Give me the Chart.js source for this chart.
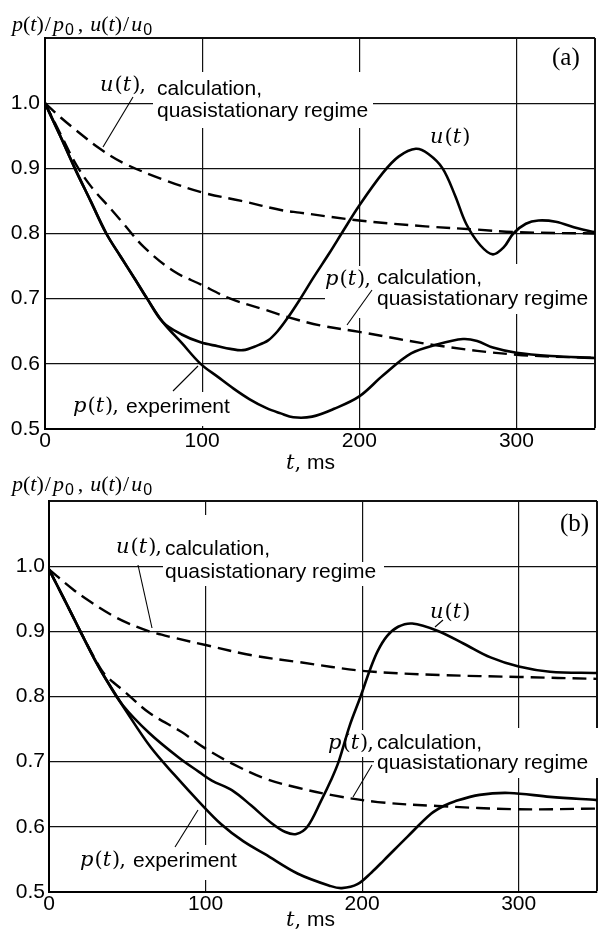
<!DOCTYPE html>
<html>
<head>
<meta charset="utf-8">
<script src="https://cdn.jsdelivr.net/npm/chart.js@4.4.1/dist/chart.umd.min.js"></script>
<style>
  html, body { margin: 0; padding: 0; background: #fff; }
  #wrap { position: relative; width: 598px; height: 930px; }
  canvas { position: absolute; left: 0; }
  #chart-a { top: 0; }
  #chart-b { top: 474px; }
</style>
</head>
<body>
<div id="wrap">
  <canvas id="chart-a" width="598" height="474"></canvas>
  <canvas id="chart-b" width="598" height="456"></canvas>
</div>
<script>
// axis ticks
const xTicks = [0, 100, 200, 300];
const xMax = 350;
const yTicks = [0.5, 0.6, 0.7, 0.8, 0.9, 1.0];
const yMax = 1.1;

// panel (a)
const uExpA_t = [0, 10, 19, 29, 39, 48, 57, 65, 75, 87, 99, 110, 118, 126, 135, 142, 148, 154, 162, 171, 181, 190, 200, 215, 225, 236, 244, 253, 261, 268, 277, 285, 292, 298, 306, 314, 325, 339, 350];
const uExpA = [1.0, 0.948, 0.9, 0.85, 0.8, 0.765, 0.731, 0.7, 0.664, 0.645, 0.633, 0.627, 0.623, 0.621, 0.628, 0.636, 0.65, 0.669, 0.698, 0.733, 0.77, 0.805, 0.843, 0.893, 0.918, 0.93, 0.922, 0.9, 0.858, 0.815, 0.782, 0.768, 0.779, 0.8, 0.815, 0.82, 0.818, 0.808, 0.802];
const pExpA_t = [0, 10, 19, 29, 39, 48, 57, 65, 75, 87, 99, 110, 120, 130, 141, 150, 158, 170, 184, 200, 215, 233, 250, 266, 275, 285, 300, 322, 350];
const pExpA = [1.0, 0.948, 0.9, 0.85, 0.8, 0.765, 0.731, 0.7, 0.664, 0.632, 0.6, 0.58, 0.562, 0.546, 0.532, 0.524, 0.518, 0.519, 0.531, 0.55, 0.582, 0.616, 0.63, 0.638, 0.635, 0.625, 0.617, 0.612, 0.609];
const uCalcA_t = [0, 10, 20, 35, 50, 75, 100, 125, 150, 162, 200, 242, 275, 300, 350];
const uCalcA = [1.0, 0.978, 0.958, 0.93, 0.908, 0.883, 0.863, 0.85, 0.836, 0.832, 0.82, 0.811, 0.806, 0.802, 0.8];
const pCalcA_t = [0, 10, 20, 30, 41, 50, 63, 82, 99, 118, 140, 154, 175, 200, 250, 300, 350];
const pCalcA = [1.0, 0.952, 0.905, 0.87, 0.84, 0.815, 0.779, 0.742, 0.722, 0.7, 0.683, 0.672, 0.659, 0.649, 0.628, 0.614, 0.609];

// panel (b)
const uExpB_t = [0, 10, 20, 30, 36, 47, 64, 83, 96, 104, 117, 129, 142, 151, 158, 165, 174, 180, 185, 192, 199, 205, 210, 216, 223, 232, 248, 265, 282, 300, 320, 350];
const uExpB = [0.995, 0.948, 0.9, 0.853, 0.828, 0.787, 0.744, 0.706, 0.684, 0.671, 0.656, 0.633, 0.606, 0.592, 0.589, 0.6, 0.641, 0.671, 0.7, 0.755, 0.8, 0.841, 0.87, 0.893, 0.907, 0.912, 0.901, 0.881, 0.86, 0.846, 0.838, 0.836];
const pExpB_t = [0, 10, 20, 30, 36, 50, 65, 80, 96, 110, 124, 138, 159, 180, 187, 197, 206, 214, 229, 244, 252, 259, 275, 294, 320, 350];
const pExpB = [0.995, 0.948, 0.9, 0.853, 0.828, 0.775, 0.722, 0.68, 0.638, 0.604, 0.578, 0.558, 0.528, 0.509, 0.506, 0.512, 0.53, 0.549, 0.585, 0.62, 0.632, 0.639, 0.649, 0.652, 0.646, 0.641];
const uCalcB_t = [0, 15, 26, 40, 50, 64, 80, 100, 130, 159, 202, 250, 300, 350];
const uCalcB = [0.995, 0.965, 0.946, 0.925, 0.913, 0.9, 0.89, 0.879, 0.863, 0.853, 0.839, 0.833, 0.83, 0.827];
const pCalcB_t = [0, 10, 20, 30, 36, 49, 64, 85, 100, 117, 138, 159, 180, 210, 248, 300, 350];
const pCalcB = [0.995, 0.948, 0.9, 0.855, 0.833, 0.806, 0.775, 0.745, 0.72, 0.697, 0.674, 0.66, 0.649, 0.638, 0.632, 0.627, 0.628];

const SERIF = '"Liberation Serif", "DejaVu Serif", serif';
const MATH = '"DejaVu Serif", "Liberation Serif", serif';
const SANS = '"Liberation Sans", Arial, sans-serif';
const I22 = 'italic 22px ' + SERIF;
const R22 = '22px ' + SERIF;
const MI = 'italic 21px ' + MATH;
const MR = '21px ' + MATH;
const S21 = '21px ' + SANS;
const SUB = '16px ' + SANS;

function pts(ts, vs) {
  return ts.map((t, i) => ({ x: t, y: vs[i] }));
}

function line(ts, vs, dashed) {
  return {
    data: pts(ts, vs),
    borderColor: '#000',
    borderWidth: dashed ? 2.4 : 2.6,
    borderDash: dashed ? [14, 7] : [],
    pointRadius: 0,
    tension: 0.35,
    fill: false
  };
}

// draw a run of differently styled pieces: [text, font, dy, extra gap]
function drawRuns(ctx, x, y, parts) {
  parts.forEach(p => {
    ctx.font = p[1];
    ctx.fillText(p[0], x, y + (p[2] || 0));
    x += ctx.measureText(p[0]).width + (p[3] || 0);
  });
}

function fn(name, comma) {
  const r = [[name, MI, 0, 1], ['(', MR], ['t', MI, 0, 1], [')', MR, 0, -1]];
  if (comma) r.push([',', MR]);
  return r;
}

const yTitle = [['p', I22], ['(', R22], ['t', I22], [')', R22, 0, 1], ['/', R22, 0, 2], ['p', I22, 0, 1], ['0', SUB, 4, 4],
  [',', R22, 0, 7], ['u', I22], ['(', R22], ['t', I22], [')', R22, 0, 1], ['/', R22, 0, 2], ['u', I22, 0, 1], ['0', SUB, 4]];
const xTitle = [['t', MI], [',', MR, 0, 6], ['ms', S21]];

function notes(cfg) {
  return {
    id: 'notes',
    beforeDatasetsDraw(chart) {
      const ctx = chart.ctx;
      ctx.save();
      ctx.fillStyle = '#fff';
      cfg.boxes.forEach(b => ctx.fillRect(b[0], b[1], b[2] - b[0], b[3] - b[1]));
      ctx.restore();
    },
    afterDatasetsDraw(chart) {
      const ctx = chart.ctx;
      ctx.save();
      ctx.fillStyle = '#000';
      ctx.strokeStyle = '#000';
      ctx.lineWidth = 1.1;
      ctx.textAlign = 'left';
      ctx.textBaseline = 'alphabetic';
      cfg.leaders.forEach(l => {
        ctx.beginPath();
        ctx.moveTo(l[0], l[1]);
        ctx.lineTo(l[2], l[3]);
        ctx.stroke();
      });
      cfg.texts.forEach(t => drawRuns(ctx, t[0], t[1], t[2]));
      ctx.restore();
    }
  };
}

function scales(yWidth, yPad, xHeight) {
  return {
    x: {
      type: 'linear', min: 0, max: xMax,
      afterBuildTicks: s => { s.ticks = xTicks.concat([xMax]).map(v => ({ value: v })); },
      afterFit: s => { s.height = xHeight; },
      grid: { color: '#111', lineWidth: c => (c.tick && c.tick.value === xMax ? 2 : 1.2), drawTicks: false },
      border: { color: '#000', width: 2 },
      ticks: { padding: 0, color: '#000', font: { family: SANS, size: 21 }, maxRotation: 0, autoSkip: false,
        callback: v => (v === xMax ? '' : String(v)) }
    },
    y: {
      type: 'linear', min: yTicks[0], max: yMax,
      afterBuildTicks: s => { s.ticks = yTicks.concat([yMax]).map(v => ({ value: v })); },
      afterFit: s => { s.width = yWidth; },
      grid: { color: '#111', lineWidth: c => (c.tick && c.tick.value > 1.05 ? 2 : 1.2), drawTicks: false },
      border: { color: '#000', width: 2 },
      ticks: { padding: yPad, color: '#000', font: { family: SANS, size: 21 }, autoSkip: false,
        callback: v => (v > 1.05 ? '' : v.toFixed(1)) }
    }
  };
}

function baseOptions(pad, sc) {
  return {
    responsive: false,
    devicePixelRatio: 1,
    animation: false,
    events: [],
    layout: { padding: pad },
    plugins: { legend: { display: false }, tooltip: { enabled: false } },
    scales: sc
  };
}

// Panel (a)
new Chart(document.getElementById('chart-a'), {
  type: 'line',
  data: {
    datasets: [
      line(uExpA_t, uExpA, false),
      line(pExpA_t, pExpA, false),
      line(uCalcA_t, uCalcA, true),
      line(pCalcA_t, pCalcA, true)
    ]
  },
  options: baseOptions({ top: 38, right: 3, left: 0, bottom: 0 }, scales(45, 5, 45)),
  plugins: [notes({
    boxes: [[153, 72, 373, 128], [325, 266, 373, 318], [373, 264, 594, 314], [72, 392, 226, 426]],
    leaders: [[133, 97, 103, 147], [372, 290, 347, 325], [173, 391, 198, 366]],
    texts: [
      [12, 31, yTitle],
      [100, 91, fn('u', true)],
      [157, 95, [['calculation,', S21]]],
      [157, 117, [['quasistationary regime', S21]]],
      [430, 143, fn('u', false)],
      [552, 65, [['(a)', '25px ' + SERIF]]],
      [325, 285, fn('p', true)],
      [377, 284, [['calculation,', S21]]],
      [377, 305, [['quasistationary regime', S21]]],
      [73, 412, fn('p', true)],
      [126, 413, [['experiment', S21]]],
      [286, 469, xTitle]
    ]
  })]
});

// Panel (b)
new Chart(document.getElementById('chart-b'), {
  type: 'line',
  data: {
    datasets: [
      line(uExpB_t, uExpB, false),
      line(pExpB_t, pExpB, false),
      line(uCalcB_t, uCalcB, true),
      line(pCalcB_t, pCalcB, true)
    ]
  },
  options: baseOptions({ top: 27, right: 1, left: 0, bottom: 0 }, scales(49, 4, 38)),
  plugins: [notes({
    boxes: [[163, 41, 275, 88], [163, 88, 384, 112], [326, 256, 376, 283], [374, 254, 598, 304], [80, 371, 234, 406]],
    leaders: [[138, 91, 152, 154], [443, 146, 435, 153], [372, 291, 353, 323], [175, 373, 198, 336]],
    texts: [
      [12, 17, yTitle],
      [116, 79, fn('u', true)],
      [165, 81, [['calculation,', S21]]],
      [165, 104, [['quasistationary regime', S21]]],
      [430, 144, fn('u', false)],
      [560, 57, [['(b)', '25px ' + SERIF]]],
      [328, 275, fn('p', true)],
      [377, 275, [['calculation,', S21]]],
      [377, 295, [['quasistationary regime', S21]]],
      [80, 392, fn('p', true)],
      [133, 393, [['experiment', S21]]],
      [286, 452, xTitle]
    ]
  })]
});
</script>
</body>
</html>
